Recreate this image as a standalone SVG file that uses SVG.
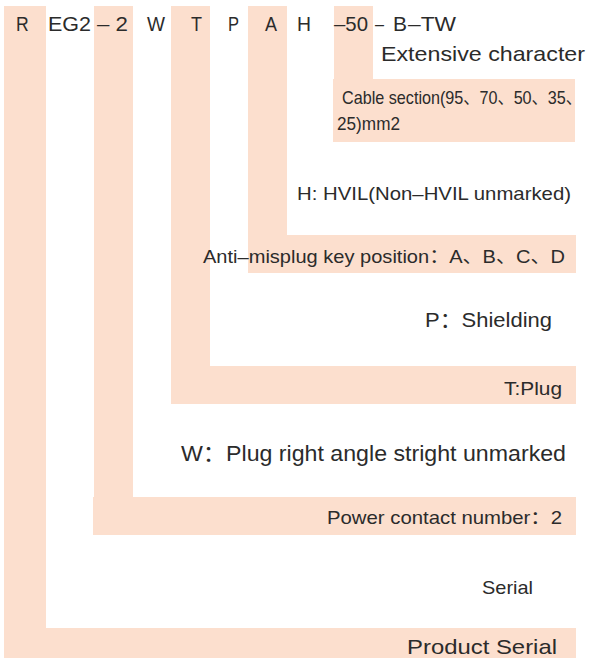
<svg xmlns="http://www.w3.org/2000/svg" width="590" height="658" viewBox="0 0 590 658">
<style>
.band{fill:#FCDFCE;stroke:none}
text{font-family:"Liberation Sans","Noto Sans CJK SC",sans-serif;fill:#2b2b2b;}
.code{font-size:21px}
</style>
<rect width="590" height="658" fill="#fff"/>
<g id="connectors">
  <path id="l-serial" class="band" d="M4,6H46V628H576V658H4Z"/>
  <path id="l-power" class="band" d="M94,6H133V497H576V535H93V497H94Z"/>
  <path id="l-plug" class="band" d="M171,6H210V366H576V404H171Z"/>
  <path id="l-key" class="band" d="M248,6H287V235H576V273H248Z"/>
  <path id="l-cable" class="band" d="M334,6H373V79H575V142H333V79H334Z"/>
</g>
<g id="code">
  <text class="code" x="16" y="31" textLength="12.7" lengthAdjust="spacingAndGlyphs">R</text>
  <text class="code" x="48" y="31" textLength="43" lengthAdjust="spacingAndGlyphs">EG2</text>
  <text class="code" x="97" y="31" textLength="31" lengthAdjust="spacingAndGlyphs">– 2</text>
  <text class="code" x="147" y="31" textLength="18" lengthAdjust="spacingAndGlyphs">W</text>
  <text class="code" x="191" y="31" textLength="11" lengthAdjust="spacingAndGlyphs">T</text>
  <text class="code" x="228" y="31" textLength="11" lengthAdjust="spacingAndGlyphs">P</text>
  <text class="code" x="265" y="31" textLength="12" lengthAdjust="spacingAndGlyphs">A</text>
  <text class="code" x="297" y="31" textLength="14" lengthAdjust="spacingAndGlyphs">H</text>
  <text class="code" x="334" y="31" textLength="34" lengthAdjust="spacingAndGlyphs">–50</text>
  <text class="code" x="375" y="31" textLength="9" lengthAdjust="spacingAndGlyphs">–</text>
  <text class="code" x="393" y="31" textLength="14" lengthAdjust="spacingAndGlyphs">B</text>
  <text class="code" x="408" y="31" textLength="48" lengthAdjust="spacingAndGlyphs">–TW</text>
</g>
<g id="node-extensive">
  <text x="381" y="61" font-size="21" textLength="204" lengthAdjust="spacingAndGlyphs">Extensive character</text>
</g>
<g id="node-cable">
  <text transform="matrix(0.836 0 0 1 342 104)" x="0" y="0" font-size="18" textLength="287" lengthAdjust="spacingAndGlyphs">Cable section(95、70、50、35、</text>
  <text x="337" y="130" font-size="18" textLength="63" lengthAdjust="spacingAndGlyphs">25)mm2</text>
</g>
<g id="node-hvil">
  <text x="297" y="200" font-size="19" textLength="274" lengthAdjust="spacingAndGlyphs">H: HVIL(Non–HVIL unmarked)</text>
</g>
<g id="node-key">
  <text x="203" y="263" font-size="19" textLength="362" lengthAdjust="spacingAndGlyphs">Anti–misplug key position：A、B、C、D</text>
</g>
<g id="node-shield">
  <text x="425" y="327" font-size="21" textLength="127" lengthAdjust="spacingAndGlyphs">P：Shielding</text>
</g>
<g id="node-plug">
  <text x="504" y="395" font-size="19" textLength="58" lengthAdjust="spacingAndGlyphs">T:Plug</text>
</g>
<g id="node-angle">
  <text x="181" y="461" font-size="22" textLength="385" lengthAdjust="spacingAndGlyphs">W：Plug right angle stright unmarked</text>
</g>
<g id="node-power">
  <text x="327" y="524" font-size="18.5" textLength="235" lengthAdjust="spacingAndGlyphs">Power contact number：2</text>
</g>
<g id="node-serial">
  <text x="482" y="594" font-size="19" textLength="51" lengthAdjust="spacingAndGlyphs">Serial</text>
</g>
<g id="node-product">
  <text x="407" y="654" font-size="21" textLength="150" lengthAdjust="spacingAndGlyphs">Product Serial</text>
</g>
</svg>
